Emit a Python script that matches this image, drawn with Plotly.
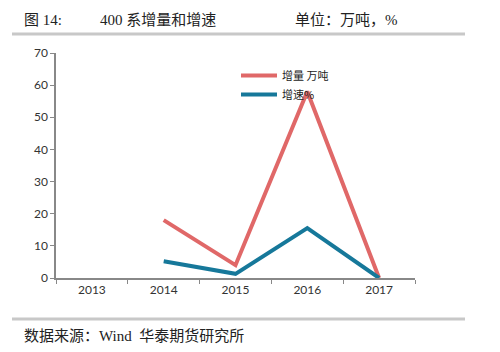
import plotly.graph_objects as go

years = ["2013", "2014", "2015", "2016", "2017"]
increment = [None, 18, 4, 58, 0]      # 增量 万吨
growth = [None, 5.2, 1.3, 15.5, 0]    # 增速%
y_ticks = [0, 10, 20, 30, 40, 50, 60, 70]

fig = go.Figure()
fig.add_trace(go.Scatter(x=years, y=increment, mode="lines", name="增量 万吨",
                         line=dict(color="#E06868", width=4)))
fig.add_trace(go.Scatter(x=years, y=growth, mode="lines", name="增速%",
                         line=dict(color="#16789A", width=4)))

plot_w = 500 - 56 - 85
plot_h = 352 - 53 - 74

tick_font = dict(family="Lato, DejaVu Sans, sans-serif", size=12, color="#333")
fig.update_layout(
    width=500, height=352,
    margin=dict(l=56, r=85, t=53, b=74),
    paper_bgcolor="white", plot_bgcolor="white",
    showlegend=True,
    legend=dict(x=(236 - 56) / plot_w, y=(352 - 74 - 61) / plot_h,
                xanchor="left", yanchor="top",
                font=dict(family="Noto Sans CJK SC", size=11, color="#222"),
                bgcolor="rgba(0,0,0,0)", tracegroupgap=0, itemwidth=36,
                borderwidth=0),
    xaxis=dict(type="category", range=[-0.5, 4.5], tickson="boundaries",
               ticks="outside", ticklen=4, tickcolor="#888",
               showline=True, linecolor="#888", linewidth=1.5,
               showgrid=False, tickfont=tick_font, zeroline=False),
    yaxis=dict(range=[0, 70], tickvals=y_ticks, ticks="outside", ticklen=4,
               tickcolor="#888", showline=True, linecolor="#888", linewidth=1.5,
               showgrid=False, tickfont=tick_font, zeroline=False),
)

serif = "Liberation Serif, Noto Sans CJK SC, serif"
ann = [
    dict(text="图 14:", x=22, y=20),
    dict(text="400 系增量和增速", x=98, y=20),
    dict(text="单位：万吨，%", x=293, y=20),
    dict(text="数据来源：Wind  华泰期货研究所", x=22, y=336),
]
for a in ann:
    fig.add_annotation(text=a["text"], xref="paper", yref="paper",
                       x=(a["x"] - 56) / plot_w, y=(352 - 74 - a["y"]) / plot_h,
                       xanchor="left", yanchor="middle", showarrow=False,
                       font=dict(family=serif, size=15, color="#222"))

for yy in (34, 319):
    fig.add_shape(type="line", xref="paper", yref="paper",
                  x0=(12 - 56) / plot_w, x1=(465 - 56) / plot_w,
                  y0=(352 - 74 - yy) / plot_h, y1=(352 - 74 - yy) / plot_h,
                  line=dict(color="#C8C8C8", width=3))

fig.write_html("out.html")
